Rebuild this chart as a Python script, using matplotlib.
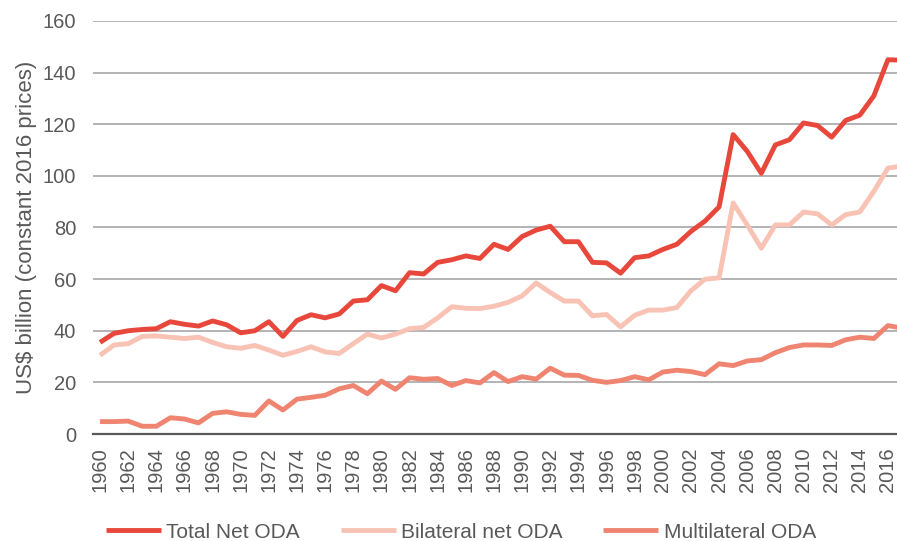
import numpy as np
import matplotlib
matplotlib.use('Agg')
import matplotlib.pyplot as plt

plt.rcParams['font.family'] = ['Liberation Sans', 'DejaVu Sans']

years = np.arange(1960, 2018)

# US$ billion, constant 2016 prices
total_oda = [35.5, 39.0, 40.0, 40.5, 40.8, 43.5, 42.5, 41.8, 43.8, 42.3,
             39.2, 40.0, 43.5, 37.8, 44.0, 46.2, 45.0, 46.5, 51.5, 52.0,
             57.5, 55.5, 62.5, 62.0, 66.5, 67.5, 69.0, 68.0, 73.5, 71.5,
             76.5, 79.0, 80.5, 74.5, 74.5, 66.5, 66.3, 62.3, 68.3, 69.0,
             71.5, 73.5, 78.5, 82.5, 88.0, 116.0, 109.5, 101.0, 112.0, 114.0,
             120.5, 119.5, 115.0, 121.5, 123.5, 131.0, 145.0, 144.8]
bilateral = [30.5, 34.5, 35.0, 37.8, 38.0, 37.5, 37.0, 37.5, 35.5, 33.8,
             33.2, 34.3, 32.5, 30.5, 32.0, 33.8, 31.8, 31.2, 35.0, 38.7,
             37.2, 38.7, 40.8, 41.3, 45.0, 49.3, 48.7, 48.6, 49.5, 51.0,
             53.5, 58.5, 54.8, 51.5, 51.5, 45.8, 46.3, 41.5, 46.0, 48.0,
             48.0, 49.0, 55.5, 60.0, 60.5, 89.5, 81.0, 72.0, 81.0, 81.0,
             86.0, 85.3, 81.0, 85.0, 86.0, 94.0, 103.0, 103.8]
multilateral = [4.8, 4.8, 5.0, 3.0, 3.0, 6.3, 5.8, 4.3, 8.0, 8.6,
                7.6, 7.2, 12.8, 9.3, 13.5, 14.2, 15.0, 17.5, 18.8, 15.6,
                20.5, 17.3, 21.8, 21.2, 21.5, 18.8, 20.7, 19.8, 23.8, 20.3,
                22.2, 21.3, 25.5, 22.8, 22.7, 20.8, 20.0, 20.7, 22.2, 21.0,
                24.0, 24.7, 24.2, 23.0, 27.2, 26.5, 28.3, 28.8, 31.5, 33.5,
                34.5, 34.5, 34.3, 36.5, 37.5, 37.0, 42.0, 41.0]

c_total = '#E8483C'
c_bil = '#F8C3B4'
c_multi = '#EF8571'
txt = '#595959'

fig = plt.figure(figsize=(8.97, 5.41), dpi=100)
ax = fig.add_axes([93/897, 1-434/541, 1-93/897, (434-21)/541])

x = np.arange(len(years))
ax.plot(x, total_oda, color=c_total, lw=3.5, label='Total Net ODA', solid_capstyle='butt')
ax.plot(x, bilateral, color=c_bil, lw=3.5, label='Bilateral net ODA', solid_capstyle='butt')
ax.plot(x, multilateral, color=c_multi, lw=3.5, label='Multilateral ODA', solid_capstyle='butt')

ax.set_xlim(-0.5, (897-100)/14.07)
ax.set_ylim(0, 160)
ax.set_yticks(range(0, 161, 20))
ax.set_xticks(x[::2])
ax.set_xticklabels([str(y) for y in years[::2]], rotation=90)
ax.tick_params(axis='both', length=0, labelsize=14.5, labelcolor=txt)
ax.tick_params(axis='y', pad=12)
ax.tick_params(axis='x', pad=9.5)

ax.grid(axis='y', color='#AEADB0', lw=1.3)
ax.set_axisbelow(True)
for s in ['top', 'right', 'left']:
    ax.spines[s].set_visible(False)
ax.spines['bottom'].set_color('#595959')
ax.spines['bottom'].set_linewidth(1.6)

ax.set_ylabel('US$ billion (constant 2016 prices)', fontsize=16, color=txt, labelpad=4)

fig.legend(loc='center', bbox_to_anchor=(461/897, 9/541), ncol=3, frameon=False,
           fontsize=15, handlelength=2.65, columnspacing=1.95, handletextpad=0.25,
           labelcolor=txt)

fig.savefig('out.png', dpi=100)
